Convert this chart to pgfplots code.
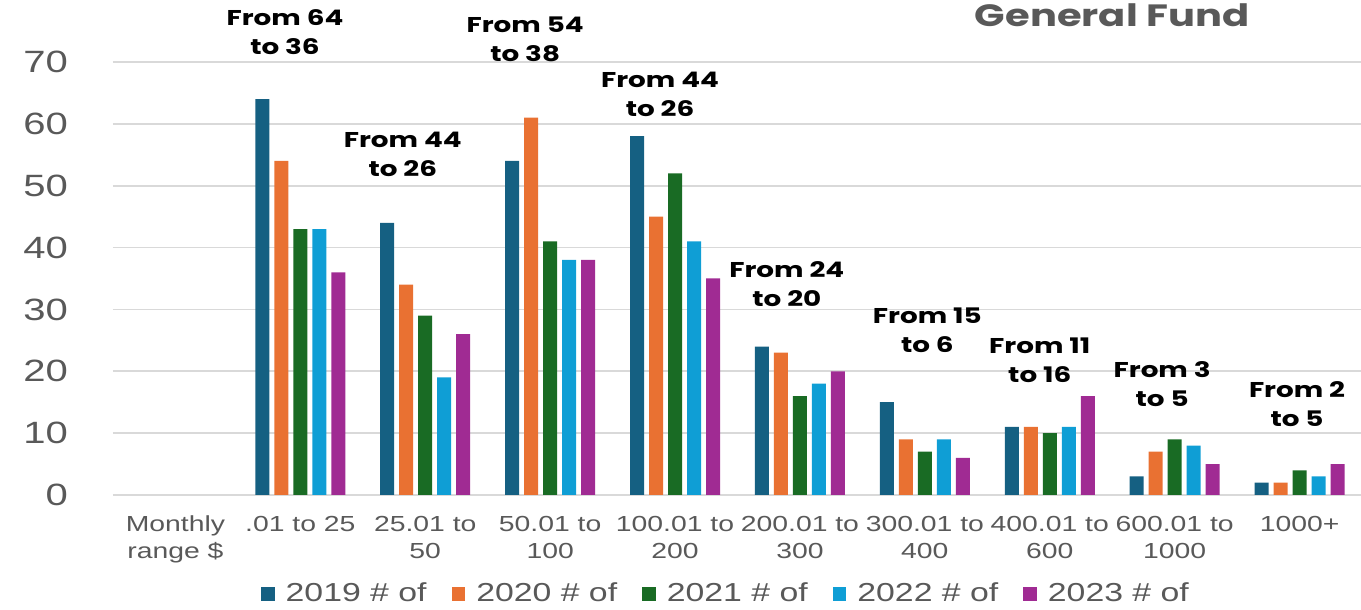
\documentclass[border=0pt]{standalone}
\usepackage{fontspec}
\setmainfont{Liberation Sans}[FakeStretch=1.3]
\newfontfamily\annfont{Poppins}[FakeStretch=1.3]
\usepackage{pgfplots}
\pgfplotsset{compat=1.18}
\definecolor{c19}{HTML}{156082}
\definecolor{c20}{HTML}{E97132}
\definecolor{c21}{HTML}{196B24}
\definecolor{c22}{HTML}{0F9ED5}
\definecolor{c23}{HTML}{A02B93}
\definecolor{txtgray}{HTML}{595959}
\definecolor{gridgray}{HTML}{D9D9D9}

\pgfplotsset{
  sq/.style={fill=#1, draw=none,
    legend image code/.code={\fill[#1] (0pt,-3.4pt) rectangle (6.8pt,3.4pt);}},
}
\tikzset{
  ann/.style={font=\annfont\bfseries\fontsize{10.7}{14.5}\selectfont, align=center, text=black},
}

\begin{document}
\begin{tikzpicture}
  \path[use as bounding box] (-56.5pt,-57.5pt) rectangle (624pt,247.5pt);
  \begin{axis}[
      at={(0pt,0pt)}, anchor=south west,
      scale only axis,
      width=624.5pt, height=216.5pt,
      ybar=2.5pt, bar width=7pt,
      xmin=-0.5, xmax=9.5,
      ymin=0, ymax=70,
      ytick={0,10,...,70},
      xtick={0,...,9},
      xticklabels={{Monthly\\range \$}, {.01 to 25}, {25.01 to\\50}, {50.01 to\\100},
        {100.01 to\\200}, {200.01 to\\300}, {300.01 to\\400}, {400.01 to\\600},
        {600.01 to\\1000}, {1000+}},
      axis line style={draw=none},
      major tick length=0pt,
      ymajorgrids,
      grid style={gridgray, line width=0.8pt},
      /pgf/number format/assume math mode=true,
      y tick label style={font=\fontsize{15.4}{18}\selectfont, text=txtgray, xshift=-19pt},
      x tick label style={font=\fontsize{10.9}{13.5}\selectfont, text=txtgray,
        align=center, anchor=north, yshift=-7pt},
      legend style={at={(0.4916,-0.2286)}, anchor=center, draw=none,
        legend columns=5, font=\fontsize{13}{15}\selectfont, text=txtgray,
        /tikz/every odd column/.append style={column sep=3.5pt},
        /tikz/every even column/.append style={column sep=10.5pt}},
      clip=false,
    ]
    \addplot[sq=c19] coordinates {(1,64) (2,44) (3,54) (4,58) (5,24) (6,15) (7,11) (8,3) (9,2)};
    \addlegendentry{2019 \# of}
    \addplot[sq=c20] coordinates {(1,54) (2,34) (3,61) (4,45) (5,23) (6,9) (7,11) (8,7) (9,2)};
    \addlegendentry{2020 \# of}
    \addplot[sq=c21] coordinates {(1,43) (2,29) (3,41) (4,52) (5,16) (6,7) (7,10) (8,9) (9,4)};
    \addlegendentry{2021 \# of}
    \addplot[sq=c22] coordinates {(1,43) (2,19) (3,38) (4,41) (5,18) (6,9) (7,11) (8,8) (9,3)};
    \addlegendentry{2022 \# of}
    \addplot[sq=c23] coordinates {(1,36) (2,26) (3,38) (4,35) (5,20) (6,6) (7,16) (8,5) (9,5)};
    \addlegendentry{2023 \# of}

    \node[ann] at (axis cs:0.877,74.8) {From 64\\to 36};
    \node[ann] at (axis cs:1.82,55.1) {From 44\\to 26};
    \node[ann] at (axis cs:2.80,73.6) {From 54\\to 38};
    \node[ann] at (axis cs:3.88,64.8) {From 44\\to 26};
    \node[ann] at (axis cs:4.895,34.1) {From 24\\to 20};
    \node[ann] at (axis cs:6.02,26.7) {From 15\\to 6};
    \node[ann] at (axis cs:6.92,21.8) {From 11\\to 16};
    \node[ann] at (axis cs:7.90,17.9) {From 3\\to 5};
    \node[ann] at (axis cs:8.98,14.7) {From 2\\to 5};
    \node[font=\annfont\bfseries\fontsize{15.4}{18}\selectfont, text=txtgray]
      at (axis cs:7.50,77.6) {General Fund};
  \end{axis}
\end{tikzpicture}
\end{document}
